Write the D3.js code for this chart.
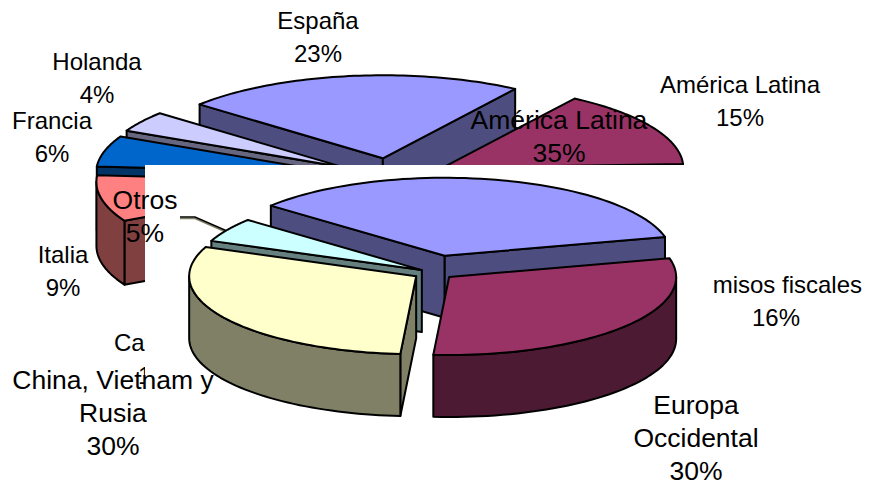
<!DOCTYPE html>
<html><head><meta charset="utf-8">
<script src="https://cdnjs.cloudflare.com/ajax/libs/d3/7.8.5/d3.min.js"></script>
<style>html,body{margin:0;padding:0;background:#fff}svg{display:block}text{font-family:"Liberation Sans",Arial,sans-serif;fill:#000;text-anchor:middle}</style>
</head><body><div id="c"></div>
<script>
// Data: first pie (the fourth slice is fully covered and shows no label)
const categoriesA = [["España"],["América Latina"],["Remisos fiscales"],[],["Cataluña"],["Italia"],["Francia"],["Holanda"]];
const valuesA = [23,15,16,9,18,9,6,4];
// Data: second pie
const categoriesB = [["América Latina"],["Europa","Occidental"],["China, Vietnam y","Rusia"],["Otros"]];
const valuesB = [35,30,30,5];

// Styles and layout
const topA = ["#9999FF","#993366","#FFFFCC","#CCFFFF","#660066","#FF8080","#0066CC","#CCCCFF"];
const wallA = ["#4D4D80","#4D1A33","#808066","#668080","#330033","#804040","#003366","#666680"];
const topB = ["#9999FF","#993366","#FFFFCC","#CCFFFF"];
const wallB = ["#4D4D80","#4D1A33","#808066","#668080"];
const layoutA = {cx:391,cy:178,rx:241,ry:83,depth:64,start:-49.5,explode:[.24,.245,.24,.24,.24,.227,.232,.238],font:24};
const layoutB = {cx:433.5,cy:272.5,rx:227,ry:78,depth:62,start:-50,explode:[.22,.09,.09,.06],font:26.5};
// [x, first baseline, optional x of the percentage line]
const labelPosA = [[318,29],[740,93],[772,293,776],[0,0],[162,351,162],[63,263],[52,129],[97,70]];
const labelPosB = [[559,129],[696,414],[113,389],[145,209]];
const lineStep = 32.8;
const W=869,H=483;
const svg=d3.select("#c").append("svg").attr("width",W).attr("height",H);

const rad=d=>d*Math.PI/180;
const line=d3.line();

function drawPie(values,tops,walls,L,parent){
  const slices=d3.pie().sort(null).startAngle(rad(L.start)).endAngle(rad(L.start+360))(values);
  const sx=d3.scaleLinear().domain([-1,1]).range([-L.rx,L.rx]);
  const sy=d3.scaleLinear().domain([-1,1]).range([L.ry,-L.ry]);
  const sz=d3.scaleLinear().domain([0,1]).range([0,L.depth]);
  const items=slices.map((s,i)=>{
    const mid=(s.startAngle+s.endAngle)/2;
    const e=L.explode[i];
    const ax=L.cx+e*sx(Math.sin(mid)), ay=L.cy+e*sy(Math.cos(mid));
    const P=(t,z=0)=>[ax+sx(Math.sin(t)),ay+sy(Math.cos(t))+sz(z)];
    return {s,i,mid,ax,ay,P};
  }).sort((a,b)=>Math.cos(b.mid)-Math.cos(a.mid));
  const g=parent.append("g").attr("stroke","#000").attr("stroke-width",2).attr("stroke-linejoin","round");
  items.forEach(it=>{
    const {s,i,P,ax,ay}=it;
    const apex0=[ax,ay],apex1=[ax,ay+sz(1)];
    const a0=s.startAngle,a1=s.endAngle;
    const wall=[];
    if(Math.sin(a0)<0) wall.push([apex0,P(a0),P(a0,1),apex1]);
    if(Math.sin(a1)>0) wall.push([apex0,P(a1),P(a1,1),apex1]);
    wall.forEach(q=>g.append("path").attr("d",line(q)+"Z").attr("fill",walls[i]));
    const w0=Math.max(a0,Math.PI/2),w1=Math.min(a1,Math.PI*1.5);
    if(w1>w0){
      const ts=d3.range(0,49).map(k=>w0+(w1-w0)*k/48);
      const pts=ts.map(t=>P(t)).concat(ts.slice().reverse().map(t=>P(t,1)));
      g.append("path").attr("d",line(pts)+"Z").attr("fill",walls[i]);
    }
    const ts=d3.range(0,65).map(k=>a0+(a1-a0)*k/64);
    const face=[apex0].concat(ts.map(t=>P(t)));
    g.append("path").attr("d",line(face)+"Z").attr("fill",tops[i]);
  });
}
function drawLabels(cats,vals,pos,font,parent){
  cats.forEach((c,i)=>{
    if(!c.length) return;
    const lines=c.concat([vals[i]+"%"]);
    const t=parent.append("text").attr("font-size",font);
    lines.forEach((l,k)=>{
      const x=(k===lines.length-1 && pos[i][2]!==undefined)?pos[i][2]:pos[i][0];
      t.append("tspan").attr("x",x).attr("y",pos[i][1]+k*lineStep).text(l);
    });
  });
}

// First pie with its labels, partly covered by the pasted second chart
const gA=svg.append("g");
drawPie(valuesA,topA,wallA,layoutA,gA);
drawLabels(categoriesA,valuesA,labelPosA,layoutA.font,gA);
svg.append("rect").attr("x",145).attr("y",165).attr("width",568.5).attr("height",H-165).attr("fill","#fff");

// Second pie
const gB=svg.append("g");
const leader=[[180,217],[195,217],[227,231]];
gB.append("path").attr("d",line(leader.map(p=>[p[0],p[1]+1.5]))).attr("fill","none").attr("stroke","#808066").attr("stroke-width",1.5);
gB.append("path").attr("d",line(leader)).attr("fill","none").attr("stroke","#000").attr("stroke-width",1.5);
drawPie(valuesB,topB,wallB,layoutB,gB);
drawLabels(categoriesB,valuesB,labelPosB,layoutB.font,gB);
</script></body></html>
